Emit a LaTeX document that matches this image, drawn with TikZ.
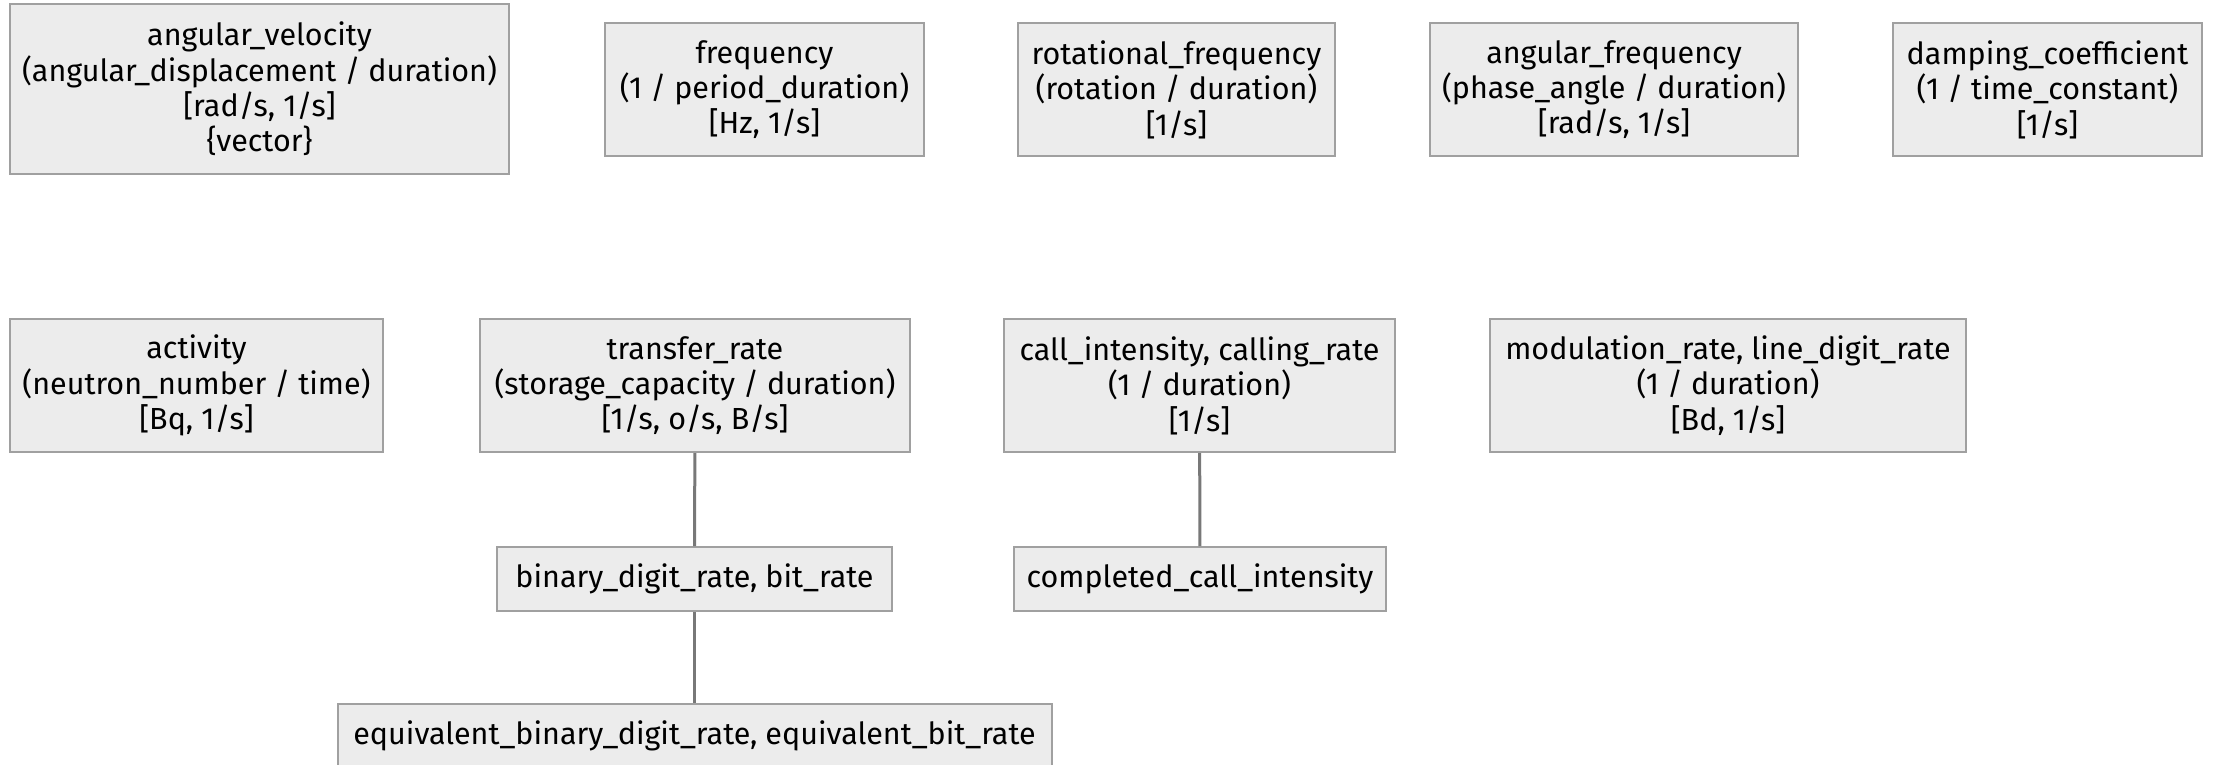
\documentclass[tikz,border=0pt]{standalone}
\usepackage{fontspec}
\setmainfont{Fira Sans}
\usepackage{tikz}

\definecolor{boxfill}{RGB}{236,236,236}
\definecolor{boxline}{RGB}{160,160,160}
\definecolor{linkline}{RGB}{120,120,120}

\begin{document}
\begin{tikzpicture}[x=1pt,y=-1pt,
   qty/.style={draw=boxline, line width=2pt, fill=boxfill, rectangle, inner sep=0pt,
               align=center, minimum height=133pt,
               font=\fontsize{30.5}{35.4}\selectfont},
   low/.style={qty, minimum height=64pt},
   link/.style={draw=linkline, line width=3pt}]
   \useasboundingbox (0,0) rectangle (2218,765);
   % first row
   \node[qty, minimum width=499pt, minimum height=170pt] (angvel) at (259.5,89)
      {angular\_velocity\\(angular\_displacement / duration)\\{}[rad/s, 1/s]\\\{vector\}};
   \node[qty, minimum width=319pt] (freq) at (764.5,89.5)
      {frequency\\(1 / period\_duration)\\{}[Hz, 1/s]};
   \node[qty, minimum width=317pt] (rotfreq) at (1176.5,89.5)
      {rotational\_frequency\\(rotation / duration)\\{}[1/s]};
   \node[qty, minimum width=368pt] (angfreq) at (1614,89.5)
      {angular\_frequency\\(phase\_angle / duration)\\{}[rad/s, 1/s]};
   \node[qty, minimum width=309pt] (damping) at (2047.5,89.5)
      {damping\_coefficient\\(1 / time\_constant)\\{}[1/s]};
   % second row
   \node[qty, minimum width=373pt] (activity) at (196.5,385.5)
      {activity\\(neutron\_number / time)\\{}[Bq, 1/s]};
   \node[qty, minimum width=430pt] (transfer) at (695,385.5)
      {transfer\_rate\\(storage\_capacity / duration)\\{}[1/s, o/s, B/s]};
   \node[qty, minimum width=391pt] (callint) at (1199.5,385.5)
      {call\_intensity, calling\_rate\\(1 / duration)\\{}[1/s]};
   \node[qty, minimum width=476pt] (modrate) at (1728,385.5)
      {modulation\_rate, line\_digit\_rate\\(1 / duration)\\{}[Bd, 1/s]};
   % children
   \node[low, minimum width=395pt] (bitrate) at (694.5,579) {binary\_digit\_rate, bit\_rate};
   \node[low, minimum width=372pt] (complcall) at (1200,579) {completed\_call\_intensity};
   \node[low, minimum width=714pt] (equiv) at (694.5,736)
      {equivalent\_binary\_digit\_rate, equivalent\_bit\_rate};
   \draw[link] (transfer) -- (bitrate);
   \draw[link] (bitrate) -- (equiv);
   \draw[link] (callint) -- (complcall);
\end{tikzpicture}
\end{document}
